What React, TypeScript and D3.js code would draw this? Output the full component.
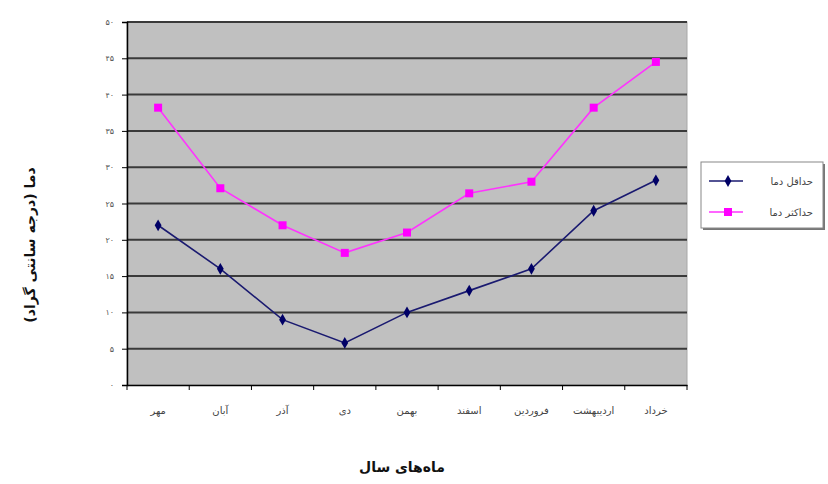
import React, { useRef, useEffect } from 'react'
import * as d3 from 'd3'

const months = ['مهر', 'آبان', 'آذر', 'دی', 'بهمن', 'اسفند', 'فروردین', 'اردیبهشت', 'خرداد']
const minTemp = [22, 16, 9, 5.8, 10, 13, 16, 24, 28.2]
const maxTemp = [38.2, 27.1, 22, 18.2, 21, 26.4, 28, 38.2, 44.5]
const yTicks = [0, 5, 10, 15, 20, 25, 30, 35, 40, 45, 50]
const seriesNames = ['حداقل دما', 'حداکثر دما']

const toPersian = (n: number) => String(n).replace(/\d/g, d => '۰۱۲۳۴۵۶۷۸۹'[+d])

const W = 828
const H = 484
const margin = { top: 22, right: 141, bottom: 99, left: 127 }
const FONT = '"DejaVu Sans", sans-serif'

export default function App() {
  const svgRef = useRef<SVGSVGElement>(null)

  useEffect(() => {
    if (!svgRef.current) return
    const svg = d3.select(svgRef.current)
    svg.selectAll('*').remove()

    const innerWidth = W - margin.left - margin.right
    const innerHeight = H - margin.top - margin.bottom

    const g = svg.append('g').attr('transform', `translate(${margin.left},${margin.top})`)

    const xScale = d3.scaleBand().domain(months).range([0, innerWidth])
    const yScale = d3.scaleLinear().domain([0, 50]).range([innerHeight, 0])
    const cx = (m: string) => (xScale(m) ?? 0) + xScale.bandwidth() / 2

    // plot area
    g.append('rect')
      .attr('width', innerWidth)
      .attr('height', innerHeight)
      .attr('fill', '#c0c0c0')
      .attr('stroke', '#a8a8a8')

    // grid lines
    g.append('g')
      .selectAll('line')
      .data(yTicks.filter(t => t > 0))
      .join('line')
      .attr('x1', 0)
      .attr('x2', innerWidth)
      .attr('y1', d => yScale(d))
      .attr('y2', d => yScale(d))
      .attr('stroke', '#3a3a3a')
      .attr('stroke-width', 2)

    // y axis
    const yAxis = d3.axisLeft(yScale)
      .tickValues(yTicks)
      .tickSize(5)
      .tickPadding(8)
      .tickFormat(d => toPersian(d as number))
    const ya = g.append('g').call(yAxis)
    ya.select('.domain').attr('stroke', '#000').attr('stroke-width', 1.5)
    ya.selectAll('line').attr('stroke', '#000')
    ya.selectAll('text')
      .style('font-size', '8px')
      .style('font-family', FONT)
      .style('fill', '#555')

    // x axis
    const xAxis = d3.axisBottom(xScale).tickSize(0).tickPadding(22)
    const xa = g.append('g').attr('transform', `translate(0,${innerHeight})`).call(xAxis)
    xa.select('.domain').attr('stroke', '#000').attr('stroke-width', 1.5)
    xa.selectAll('text')
      .style('font-size', '10px')
      .style('font-family', FONT)
      .style('fill', '#444')
    // category boundary ticks
    g.append('g')
      .selectAll('line')
      .data(d3.range(months.length + 1))
      .join('line')
      .attr('x1', i => i * xScale.bandwidth())
      .attr('x2', i => i * xScale.bandwidth())
      .attr('y1', innerHeight)
      .attr('y2', innerHeight + 5)
      .attr('stroke', '#000')

    const line = d3.line<number>()
      .x((_, i) => cx(months[i]))
      .y(d => yScale(d))

    // min series (navy, diamonds)
    g.append('path')
      .datum(minTemp)
      .attr('d', line)
      .attr('fill', 'none')
      .attr('stroke', '#1a1a70')
      .attr('stroke-width', 1.6)
    const diamond = d3.symbol(d3.symbolDiamond, 40)
    g.append('g')
      .selectAll('path')
      .data(minTemp)
      .join('path')
      .attr('d', diamond)
      .attr('transform', (d, i) => `translate(${cx(months[i])},${yScale(d)})`)
      .attr('fill', '#000066')

    // max series (magenta, squares)
    g.append('path')
      .datum(maxTemp)
      .attr('d', line)
      .attr('fill', 'none')
      .attr('stroke', '#ff33ff')
      .attr('stroke-width', 1.6)
    g.append('g')
      .selectAll('rect')
      .data(maxTemp)
      .join('rect')
      .attr('x', (d, i) => cx(months[i]) - 4)
      .attr('y', d => yScale(d) - 4)
      .attr('width', 8)
      .attr('height', 8)
      .attr('fill', '#ff00ff')

    // legend
    const lg = svg.append('g').attr('transform', 'translate(701,162)')
    lg.append('rect').attr('x', 2).attr('y', 2).attr('width', 122).attr('height', 66).attr('fill', '#777')
    lg.append('rect').attr('width', 122).attr('height', 66).attr('fill', '#fff').attr('stroke', '#888')
    const colors = ['#1a1a70', '#ff33ff']
    seriesNames.forEach((name, i) => {
      const y = 19 + i * 31
      lg.append('line').attr('x1', 8).attr('x2', 42).attr('y1', y).attr('y2', y)
        .attr('stroke', colors[i]).attr('stroke-width', 1.6)
      if (i === 0) {
        lg.append('path').attr('d', diamond).attr('transform', `translate(27,${y})`).attr('fill', '#000066')
      } else {
        lg.append('rect').attr('x', 23).attr('y', y - 4).attr('width', 8).attr('height', 8).attr('fill', '#ff00ff')
      }
      lg.append('text')
        .attr('x', 112)
        .attr('y', y)
        .attr('dy', '0.35em')
        .attr('text-anchor', 'start')
        .style('direction', 'rtl')
        .style('font-size', '10px')
        .style('font-family', FONT)
        .style('fill', '#444')
        .text(name)
    })

    // axis titles
    svg.append('text')
      .attr('transform', 'translate(30,245) rotate(-90)')
      .attr('text-anchor', 'middle')
      .attr('dy', '0.35em')
      .style('direction', 'rtl')
      .style('font-size', '14px')
      .style('font-weight', 'bold')
      .style('font-family', FONT)
      .style('fill', '#111')
      .text('دما (درجه سانتی گراد)')

    svg.append('text')
      .attr('x', 402)
      .attr('y', 472)
      .attr('text-anchor', 'middle')
      .style('direction', 'rtl')
      .style('font-size', '14px')
      .style('font-weight', 'bold')
      .style('font-family', FONT)
      .style('fill', '#111')
      .text('ماه‌های سال')
  }, [])

  return (
    <svg
      ref={svgRef}
      width={W}
      height={H}
      style={{ position: 'absolute', left: 0, top: 0, background: '#fff' }}
    />
  )
}
